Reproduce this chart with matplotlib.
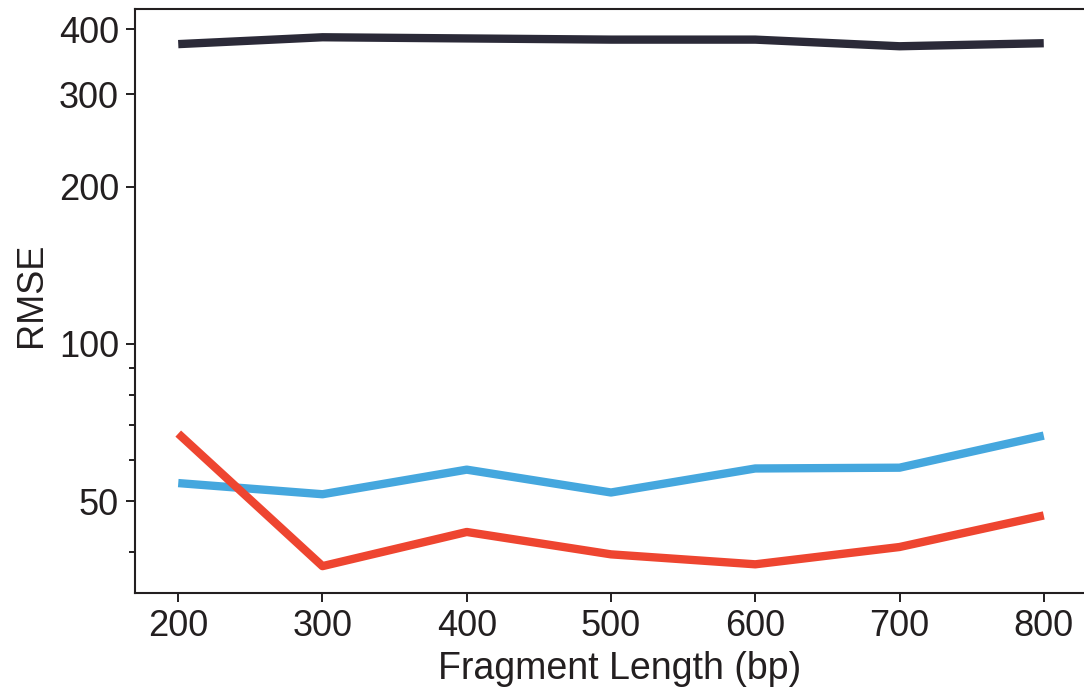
import matplotlib
matplotlib.use("Agg")
import matplotlib.pyplot as plt
from matplotlib.ticker import FixedLocator, NullFormatter

fragment_length = [200, 300, 400, 500, 600, 700, 800]
rmse_dark = [374.5, 386, 384, 382, 382, 371, 376]
rmse_blue = [54.2, 51.6, 57.5, 52.0, 57.8, 58.0, 66.8]
rmse_red = [67.4, 37.6, 43.7, 39.6, 37.9, 40.9, 47.0]

y_major = [50, 100, 200, 300, 400]
y_minor = [40, 60, 70, 80, 90]
x_ticks = [200, 300, 400, 500, 600, 700, 800]

ink = "#231f20"
plt.rcParams["font.family"] = ["Liberation Sans", "DejaVu Sans"]

fig = plt.figure(figsize=(10.84, 6.98), dpi=100)
ax = fig.add_axes([0.1245, 0.1504, 0.8783, 0.8366])

lw = 6.0
ax.plot(fragment_length, rmse_dark, color="#2b2a38", lw=lw, solid_capstyle="butt")
ax.plot(fragment_length, rmse_blue, color="#45a7de", lw=lw, solid_capstyle="butt")
ax.plot(fragment_length, rmse_red, color="#ee4530", lw=lw, solid_capstyle="butt")

ax.set_yscale("log")
ax.set_xlim(170, 830)
ax.set_ylim(33.4, 437)
ax.yaxis.set_major_locator(FixedLocator(y_major))
ax.yaxis.set_minor_locator(FixedLocator(y_minor))
ax.yaxis.set_minor_formatter(NullFormatter())
ax.set_yticklabels([str(v) for v in y_major])
ax.set_xticks(x_ticks)
ax.set_xticklabels([str(v) for v in x_ticks])

for s in ax.spines.values():
    s.set_linewidth(1.5)
    s.set_color(ink)

ax.tick_params(axis="both", which="major", length=6.5, width=1.4, color=ink,
               labelsize=26, labelcolor=ink, pad=5)
ax.tick_params(axis="y", which="minor", length=4.5, width=1.4, color=ink)

ax.set_xlabel("Fragment Length (bp)", fontsize=27, color=ink)
ax.set_ylabel("RMSE", fontsize=26, color=ink)
ax.xaxis.set_label_coords(0.5093, -0.099)
ax.yaxis.set_label_coords(-0.090, 0.510)

fig.savefig("out.png", dpi=100)
